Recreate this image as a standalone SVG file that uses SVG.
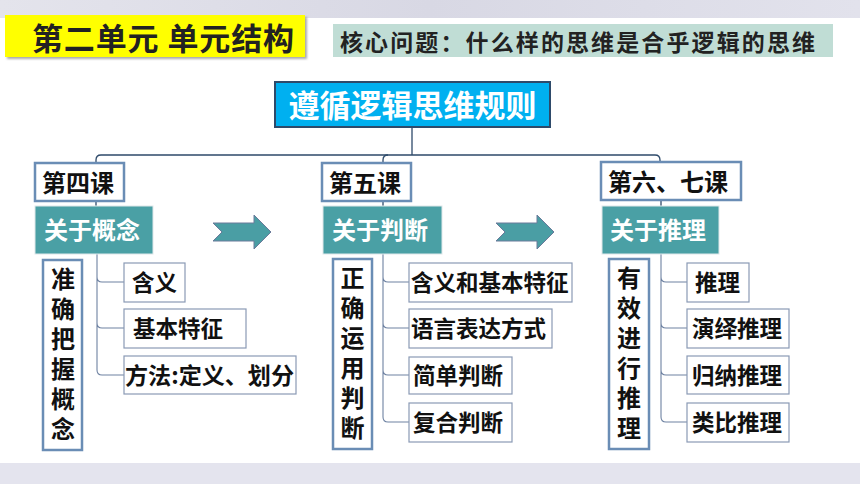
<svg xmlns="http://www.w3.org/2000/svg" width="860" height="484" viewBox="0 0 860 484">
<defs>
<linearGradient id="band" x1="0" y1="0" x2="1" y2="0">
<stop offset="0" stop-color="#e4e4ec"/>
<stop offset="0.5" stop-color="#d8d8e4"/>
<stop offset="1" stop-color="#e2e2ec"/>
</linearGradient>
<filter id="sh" x="-5%" y="-5%" width="115%" height="130%">
<feDropShadow dx="2" dy="2" stdDeviation="1" flood-color="#888" flood-opacity="0.7"/>
</filter>
</defs>
<style>
text{font-family:"Noto Sans CJK SC","Liberation Sans",sans-serif;font-weight:700}
.lesson{fill:#fff;stroke:#6a8db5;stroke-width:2.5}
.topic{fill:#4aa0a5;stroke:#dfe8ea;stroke-width:1}
.vbox{fill:#fff;stroke:#6a8db5;stroke-width:2.5}
.sub{fill:#fff;stroke:#8a9ab5;stroke-width:1.2}
.t24{font-size:24px;fill:#111}
.tw{font-size:24px;fill:#fff}
.t22{font-size:22.5px;fill:#111}
.v{font-size:24px;fill:#111;writing-mode:vertical-rl;letter-spacing:6px}
.arrow{fill:#4a9ea4;stroke:#6a7a9a;stroke-width:1}
.conn{fill:none;stroke:#2e4a6a;stroke-width:1.3}
.br{fill:none;stroke:#6e82a2;stroke-width:1.1}
</style>
<rect x="0" y="0" width="860" height="484" fill="#ffffff"/>
<rect x="0" y="0" width="860" height="18" fill="url(#band)"/>
<rect x="0" y="463" width="860" height="21" fill="#e4e4ee"/>

<g id="title">
<rect x="5" y="15" width="300" height="42" fill="#ffff00" filter="url(#sh)"/>
<text x="32" y="50" style="font-size:31px;fill:#222" textLength="262" lengthAdjust="spacing">第二单元 单元结构</text>
</g>
<g id="question">
<rect x="333" y="24" width="500" height="33" fill="#c0ddd5"/>
<text x="340" y="51" style="font-size:23px;fill:#222" textLength="475" lengthAdjust="spacing">核心问题：什么样的思维是合乎逻辑的思维</text>
</g>
<g id="root">
<rect x="275" y="82" width="275" height="45" fill="#00b0f0" stroke="#2e4a6a" stroke-width="2"/>
<text x="412.5" y="117" style="font-size:31px;fill:#fff;text-anchor:middle">遵循逻辑思维规则</text>
</g>

<g id="connectors">
<path class="conn" d="M412 127 V155"/>
<path class="conn" d="M96 163 V160 Q96 155 101 155 H655 Q660 155 660 160 V162"/>
<path class="conn" d="M383 163 V160 Q383 155 388 155"/>
<path class="conn" d="M96 201 V206"/>
<path class="conn" d="M383 201 V206"/>
<path class="conn" d="M661 200 V206"/>
<path class="br" d="M97 254 V370 Q97 375 102 375 H124 M97 277 Q97 282 102 282 H124 M97 323 Q97 328 102 328 H124"/>
<path class="br" d="M383 254 V417 Q383 422 388 422 H409 M383 277 Q383 282 388 282 H409 M383 323 Q383 328 388 328 H409 M383 370 Q383 375 388 375 H409"/>
<path class="br" d="M661 254 V417 Q661 422 666 422 H687 M661 277 Q661 282 666 282 H687 M661 323 Q661 328 666 328 H687 M661 370 Q661 375 666 375 H687"/>
</g>

<g id="lesson4">
<rect class="lesson" x="35" y="163" width="89" height="38"/>
<text class="t24" x="42" y="192">第四课</text>
</g>
<g id="topic-concept">
<rect class="topic" x="35" y="206" width="118" height="48"/>
<text class="tw" x="44" y="239">关于概念</text>
</g>
<g id="v-concept">
<rect class="vbox" x="43" y="260" width="39" height="190"/>
<text class="v" x="63" y="267">准确把握概念</text>
</g>
<g id="c-meaning">
<rect class="sub" x="124" y="263" width="61" height="39"/>
<text class="t22" x="132" y="291">含义</text>
</g>
<g id="c-feature">
<rect class="sub" x="124" y="309" width="122" height="39"/>
<text class="t22" x="133" y="337">基本特征</text>
</g>
<g id="c-method">
<rect class="sub" x="124" y="356" width="172" height="38"/>
<text class="t22" x="125" y="384" textLength="169" lengthAdjust="spacingAndGlyphs">方法:定义、划分</text>
</g>

<g id="arrow1">
<path class="arrow" d="M213 223 H254 V215 L271 232 L254 249 V241 H213 L222 232 Z"/>
</g>
<g id="arrow2">
<path class="arrow" d="M496 223 H537 V215 L554 232 L537 249 V241 H496 L505 232 Z"/>
</g>

<g id="lesson5">
<rect class="lesson" x="322" y="163" width="89" height="38"/>
<text class="t24" x="329" y="192">第五课</text>
</g>
<g id="topic-judgment">
<rect class="topic" x="323" y="206" width="119" height="48"/>
<text class="tw" x="332" y="239">关于判断</text>
</g>
<g id="v-judgment">
<rect class="vbox" x="333" y="259" width="39" height="190"/>
<text class="v" x="352.5" y="266">正确运用判断</text>
</g>
<g id="j-meaning">
<rect class="sub" x="409" y="263" width="163" height="39"/>
<text class="t22" x="411" y="291">含义和基本特征</text>
</g>
<g id="j-expr">
<rect class="sub" x="409" y="309" width="143" height="39"/>
<text class="t22" x="411" y="337">语言表达方式</text>
</g>
<g id="j-simple">
<rect class="sub" x="409" y="357" width="103" height="37"/>
<text class="t22" x="413" y="384">简单判断</text>
</g>
<g id="j-compound">
<rect class="sub" x="409" y="403" width="103" height="39"/>
<text class="t22" x="413" y="431">复合判断</text>
</g>

<g id="lesson67">
<rect class="lesson" x="601" y="162" width="140" height="38"/>
<text class="t24" x="608" y="191">第六、七课</text>
</g>
<g id="topic-reasoning">
<rect class="topic" x="602" y="206" width="117" height="48"/>
<text class="tw" x="610" y="239">关于推理</text>
</g>
<g id="v-reasoning">
<rect class="vbox" x="609" y="259" width="40" height="190"/>
<text class="v" x="629" y="266">有效进行推理</text>
</g>
<g id="r-reasoning">
<rect class="sub" x="687" y="263" width="62" height="39"/>
<text class="t22" x="695" y="291">推理</text>
</g>
<g id="r-deduction">
<rect class="sub" x="687" y="309" width="102" height="39"/>
<text class="t22" x="692" y="337">演绎推理</text>
</g>
<g id="r-induction">
<rect class="sub" x="687" y="356" width="102" height="38"/>
<text class="t22" x="692" y="384">归纳推理</text>
</g>
<g id="r-analogy">
<rect class="sub" x="687" y="403" width="102" height="39"/>
<text class="t22" x="692" y="431">类比推理</text>
</g>
</svg>
